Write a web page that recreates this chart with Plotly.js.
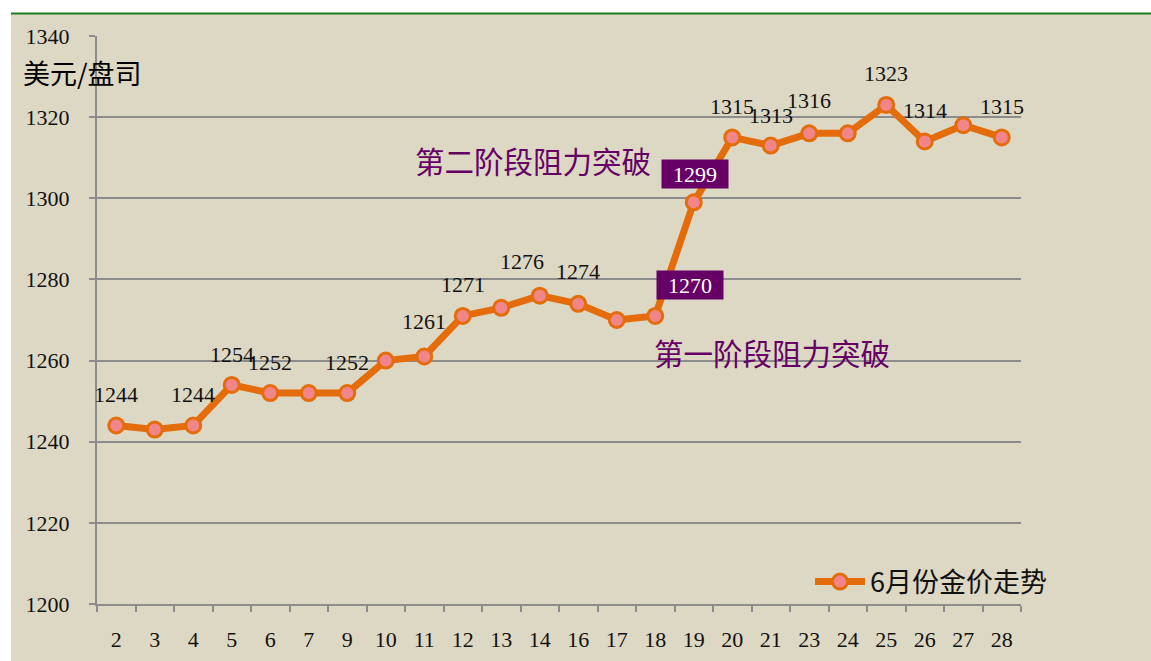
<!DOCTYPE html>
<html>
<head>
<meta charset="utf-8">
<script src="https://cdn.plot.ly/plotly-3.0.1.min.js"></script>
<style>html,body{margin:0;padding:0;background:#fff;}#chart{width:1151px;height:661px;}</style>
</head>
<body>
<div id="chart"></div>
<script>
// ---- data ----
const days = ['2','3','4','5','6','7','9','10','11','12','13','14','16','17','18','19','20','21','23','24','25','26','27','28'];
const prices = [1244,1243,1244,1254,1252,1252,1252,1260,1261,1271,1273,1276,1274,1270,1271,1299,1315,1313,1316,1316,1323,1314,1318,1315];
const labelDays = ['2','4','5','6','9','11','12','14','16','20','21','23','25','26','28'];
const labelTexts = ['1244','1244','1254','1252','1252','1261','1271','1276','1274','1315','1313','1316','1323','1314','1315'];
const boxDays = ['18','19'];
const boxTexts = ['1270','1299'];
const seriesName = '6月份金价走势';
const yTitle = '美元/盘司';
const note1 = '第一阶段阻力突破';
const note2 = '第二阶段阻力突破';

// ---- styles / positions ----
const labelShift = {'11':[0,35],'14':[-18,34],'16':[0,32],'23':[0,33],'21':[0,30],'5':[0,30]};
const boxShift = {'18':[35,31],'19':[1,28]};
const serif = 'Liberation Serif, DejaVu Serif, serif';
const cjk = 'Noto Sans CJK SC, sans-serif';

const annotations = [];
labelDays.forEach((d,i)=>{
  const idx = days.indexOf(d);
  const s = labelShift[d] || [0,31];
  annotations.push({x:idx,y:prices[idx],xref:'x',yref:'y',text:labelTexts[i],showarrow:false,
    xshift:s[0],yshift:s[1],font:{family:serif,size:22,color:'#111'}});
});
boxDays.forEach((d,i)=>{
  const idx = days.indexOf(d);
  const s = boxShift[d];
  annotations.push({x:idx,y:prices[idx],xref:'x',yref:'y',text:boxTexts[i],showarrow:false,
    xshift:s[0],yshift:s[1],bgcolor:'#660066',borderpad:0,width:66,height:28,
    font:{family:serif,size:22,color:'#fff'}});
});
annotations.push({x:(21-97)/924,y:(604-72)/568,xref:'paper',yref:'paper',xanchor:'left',yanchor:'middle',
  text:yTitle,showarrow:false,font:{family:cjk,size:27,color:'#000'}});
annotations.push({x:(413-97)/924,y:(604-160)/568,xref:'paper',yref:'paper',xanchor:'left',yanchor:'middle',
  text:note2,showarrow:false,font:{family:cjk,size:29.5,color:'#660066'}});
annotations.push({x:(652-97)/924,y:(604-352)/568,xref:'paper',yref:'paper',xanchor:'left',yanchor:'middle',
  text:note1,showarrow:false,font:{family:cjk,size:29.5,color:'#660066'}});

const px = p => (p-97)/924, py = p => (604-p)/568;

const trace = {
  x: days, y: prices, type:'scatter', mode:'lines+markers', name: seriesName,
  line:{color:'#E46C0A',width:7},
  marker:{size:15,color:'#F0868A',line:{color:'#E46C0A',width:3}}
};

const layout = {
  width:1151, height:661,
  margin:{l:97,r:130,t:36,b:57,pad:0},
  paper_bgcolor:'#ffffff',
  plot_bgcolor:'rgba(0,0,0,0)',
  showlegend:true,
  legend:{x:px(810),y:py(582),xanchor:'left',yanchor:'middle',bgcolor:'rgba(0,0,0,0)',
    font:{family:cjk,size:27,color:'#111'},itemwidth:50},
  xaxis:{type:'category',range:[-0.5,23.5],showgrid:false,zeroline:false,
    showline:true,linecolor:'#8c8c8c',linewidth:2,
    ticks:'outside',tickson:'boundaries',ticklen:6,tickcolor:'#8c8c8c',tickwidth:2,
    ticklabelstandoff:15,
    tickfont:{family:serif,size:22,color:'#111'},fixedrange:true},
  yaxis:{range:[1200,1340],dtick:20,tick0:1200,showgrid:true,gridcolor:'#8c8c8c',gridwidth:2,
    zeroline:false,showline:true,linecolor:'#8c8c8c',linewidth:2,
    ticks:'outside',ticklen:6,tickcolor:'#8c8c8c',tickwidth:2,ticklabelstandoff:15,
    tickfont:{family:serif,size:22,color:'#111'},fixedrange:true},
  shapes:[
    {type:'rect',xref:'paper',yref:'paper',x0:px(11),x1:px(1152),y0:py(662),y1:py(14),
      fillcolor:'#DDD8C3',line:{width:0},layer:'below'},
    {type:'line',xref:'paper',yref:'paper',x0:px(11),x1:px(1152),y0:py(13.5),y1:py(13.5),
      line:{color:'#1E7B1E',width:2},layer:'below'}
  ],
  annotations: annotations
};

Plotly.newPlot('chart',[trace],layout,{displayModeBar:false,staticPlot:true});
</script>
</body>
</html>
